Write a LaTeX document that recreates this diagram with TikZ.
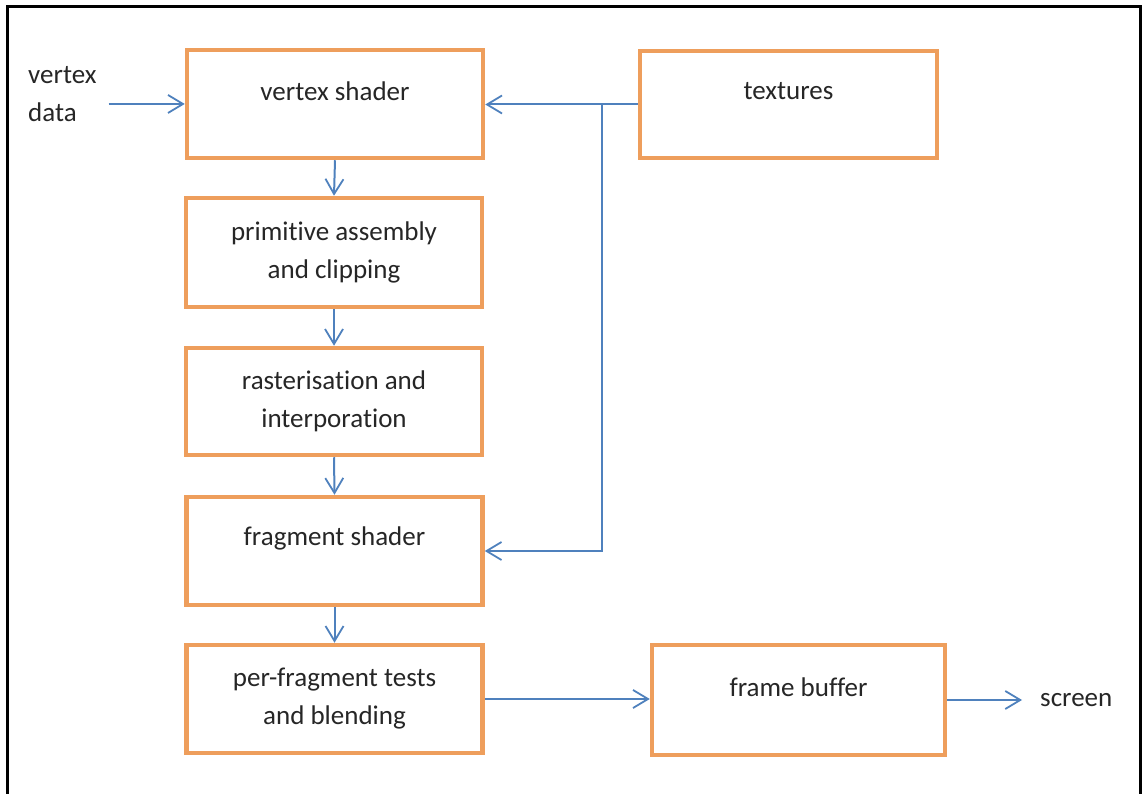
\documentclass[tikz,border=0pt]{standalone}
\usepackage{fontspec}
\setmainfont{Carlito}[RawFeature={-liga;-clig;-calt;-dlig}]
\usetikzlibrary{arrows.meta}
\definecolor{boxorange}{RGB}{238,158,92}
\definecolor{lineblue}{RGB}{79,129,189}
\tikzset{
  box/.style={draw=boxorange, line width=4.5pt, fill=white, rectangle,
    minimum width=296pt, minimum height=108pt, inner sep=0pt},
  txt/.style={font=\fontsize{27}{38}\selectfont, text=black!85, align=center, inner sep=0pt},
  boxlabel/.style={label={[txt, anchor=center, yshift=13pt]center:#1}},
  conn/.style={draw=lineblue, line width=2pt},
  arr/.style={conn, -{Straight Barb[length=15pt,width=18pt,line width=1.8pt]}}
}
\begin{document}
\begin{tikzpicture}[x=1pt,y=-1pt]
\useasboundingbox (0,0) rectangle (1143,794);
\draw[line width=3pt, black] (7,796) -- (7,7) -- (1140,7) -- (1140,796);

\node[box, boxlabel={vertex shader}] (vs) at (335,104) {};
\node[box, txt, draw=boxorange, line width=4.5pt, minimum width=296pt, minimum height=109pt] (pa) at (334,252.5) {primitive assembly\\and clipping};
\node[box, txt, draw=boxorange, line width=4.5pt, minimum width=296pt, minimum height=107pt] (ra) at (334,401.5) {rasterisation and\\interporation};
\node[box, boxlabel={fragment shader}] (fs) at (334.5,551) {};
\node[box, txt, draw=boxorange, line width=4.5pt, minimum width=296pt, minimum height=108pt] (pf) at (334.5,699) {per-fragment tests\\and blending};
\node[box, minimum width=297pt, minimum height=107pt, boxlabel={textures}] (tx) at (788.5,104.5) {};
\node[box, minimum width=293pt, minimum height=110pt, boxlabel={frame buffer}] (fb) at (798.5,700) {};

\node[txt, align=left, anchor=west] (vd) at (28,94) {vertex\\data};
\node[txt, anchor=west] (scr) at (1040,700) {screen};
\coordinate (j) at (602,103);

\draw[arr, shorten <=12pt] (vd.east |- vs.west) -- (vs.west);
\draw[arr] (vs.south) -- (pa.north);
\draw[arr] (pa.south) -- (ra.north);
\draw[arr] (ra.south) -- (fs.north);
\draw[arr] (fs.south) -- (pf.north);
\draw[arr] (tx.west) -- (vs.east |- tx.west);
\draw[arr] (j |- tx.west) |- (fs.east);
\draw[arr] (pf.east) -- (pf.east -| fb.west);
\draw[arr, shorten >=18pt] (fb.east) -- (scr.west);
\end{tikzpicture}
\end{document}
